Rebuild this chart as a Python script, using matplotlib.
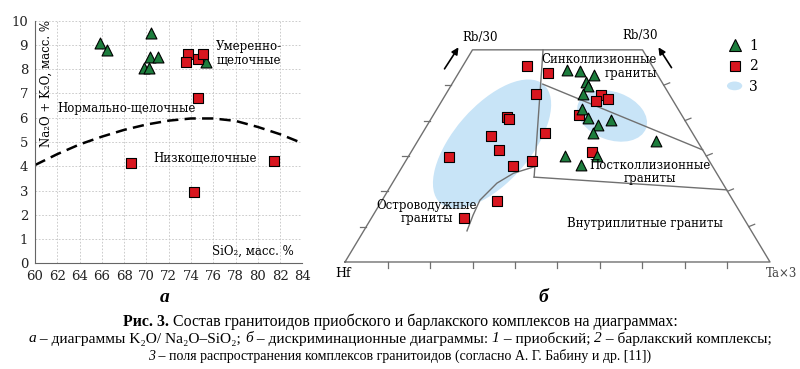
import matplotlib
matplotlib.use("Agg")
import matplotlib.pyplot as plt
from matplotlib.patches import Ellipse
from matplotlib.lines import Line2D
from matplotlib.legend_handler import HandlerPatch
import numpy as np

serif = ['DejaVu Serif']
cap_fonts = ['Liberation Serif', 'DejaVu Serif']
plt.rcParams['font.family'] = serif

GREEN = '#1d7d3d'
RED = '#d8161f'
BLUE = '#c8e4f7'
GRAY = '#707070'
LABEL_FS = 8.5

# --- a: Na2O+K2O vs SiO2 ---
sio2_tri = [65.8, 66.5, 70.4, 70.3, 71.0, 69.8, 70.2, 75.35]
alk_tri = [9.1, 8.8, 9.5, 8.5, 8.5, 8.05, 8.05, 8.3]
sio2_sq = [73.75, 73.55, 74.6, 75.1, 74.65, 68.6, 74.3, 81.45]
alk_sq = [8.62, 8.28, 8.43, 8.64, 6.8, 4.15, 2.92, 4.2]
curve_sio2 = [60, 62, 64, 66, 68, 70, 72, 74, 76, 78, 80, 82, 84]
curve_alk = [4.05, 4.5, 4.9, 5.22, 5.5, 5.72, 5.88, 5.97, 5.97, 5.87, 5.62, 5.32, 4.95]
x_ticks = list(range(60, 85, 2))
y_ticks = list(range(0, 11))

# --- b: Hf - Rb/30 - Ta*3 (percent) ---
rb_sq = [55.4, 53.5, 47.5, 41.0, 40.4, 35.6, 36.5, 31.7, 29.7, 28.6, 27.2, 17.3, 12.4,
         47.2, 46.1, 45.5, 41.6, 31.1]
ta_sq = [15.1, 21.0, 21.2, 17.6, 18.4, 16.6, 28.8, 20.4, 9.6, 29.7, 25.9, 27.1, 21.8,
         36.6, 38.8, 36.3, 34.3, 42.6]
rb_tri = [54.3, 54.0, 52.9, 50.9, 49.8, 47.5, 43.3, 40.7, 38.7, 40.2, 36.5, 34.2, 30.0, 30.0, 27.4]
ta_tri = [25.1, 28.3, 32.2, 31.3, 32.3, 32.3, 34.1, 36.8, 40.1, 42.5, 40.1, 56.1, 36.8, 44.3, 41.8]

rb_top = 60
line_a = ([60, 24.0], [16.6, 32.5])
line_b = ([50.3, 31.7], [21.4, 68.3])
line_c = ([24.0, 20.4], [32.5, 79.6])
arc_rb = [8.8, 13.3, 17.5, 22.3, 25.1, 26.9]
arc_ta = [24.3, 23.5, 23.0, 24.6, 27.1, 31.0]
# fields: centre (rb, ta), width, height, angle
field_big = (33.4, 17.9, 0.37, 0.18, 49)
field_small = (41.3, 42.2, 0.17, 0.113, -20)

H = 0.832


def tern(rb, ta):
    rb = np.asarray(rb, float) / 100
    ta = np.asarray(ta, float) / 100
    return ta + rb / 2, rb * H


fig = plt.figure(figsize=(8, 3.69), dpi=100)

# ---------- a ----------
ax = fig.add_axes([35 / 800, 1 - 263.3 / 369, 267.4 / 800, 242.6 / 369])
ax.set_xlim(60, 84)
ax.set_ylim(0, 10)
ax.set_xticks(x_ticks)
ax.set_yticks(y_ticks)
ax.grid(True, color='#c4c4c4', linestyle=(0, (2, 2)), linewidth=0.6)
ax.set_axisbelow(True)
for s in ['top', 'right']:
    ax.spines[s].set_visible(False)
for s in ['left', 'bottom']:
    ax.spines[s].set_color('#666666')
    ax.spines[s].set_linewidth(0.8)
ax.tick_params(length=0, labelsize=9.5, pad=5, colors='#222222')
ax.plot(curve_sio2, curve_alk, color='black', lw=1.8, dashes=(4.5, 2.5))
ax.scatter(sio2_tri, alk_tri, marker='^', s=62, color=GREEN, edgecolor='black', linewidth=0.8, zorder=3)
ax.scatter(sio2_sq, alk_sq, marker='s', s=55, color=RED, edgecolor='black', linewidth=0.8, zorder=3)
ax.text(79.2, 8.64, 'Умеренно-\nщелочные', ha='center', va='center', fontsize=LABEL_FS, linespacing=1.15)
ax.text(62.0, 6.39, 'Нормально-щелочные', ha='left', va='center', fontsize=LABEL_FS)
ax.text(70.6, 4.33, 'Низкощелочные', ha='left', va='center', fontsize=LABEL_FS)
ax.text(83.2, 0.48, 'SiO₂, масс. %', ha='right', va='center', fontsize=LABEL_FS)
ax.text(61.05, 7.4, 'Na₂O + K₂O, масс. %', ha='center', va='center', rotation=90, fontsize=LABEL_FS)

# ---------- b ----------
bx = fig.add_axes([330 / 800, 1 - 290 / 369, 470 / 800, 270 / 369])
bx.set_xlim(-0.0353, 1.0706)
bx.set_ylim(-0.0659, 0.5694)
bx.axis('off')

for rb0, ta0, w, h, ang in [field_big, field_small]:
    cx, cy = tern(rb0, ta0)
    bx.add_patch(Ellipse((cx, cy), w, h, angle=ang, facecolor=BLUE, edgecolor='none', zorder=1))

ox, oy = tern([0, 0, rb_top, rb_top, 0], [0, 100, 100 - rb_top, 0, 0])
bx.plot(ox, oy, color=GRAY, lw=1, zorder=2)
for ln in [line_a, line_b, line_c]:
    lx, ly = tern(*ln)
    bx.plot(lx, ly, color=GRAY, lw=1, zorder=2)
lx, ly = tern(arc_rb, arc_ta)
bx.plot(lx, ly, color=GRAY, lw=1, zorder=2)

tl = 0.015
for k in range(10, 100, 10):
    tx, ty = tern(0, k)
    bx.plot([tx, tx], [ty, ty - tl], color=GRAY, lw=0.9)
for k in range(10, 60, 10):
    tx, ty = tern(k, 0)
    bx.plot([tx, tx - tl], [ty, ty], color=GRAY, lw=0.9)
    tx, ty = tern(k, 100 - k)
    bx.plot([tx, tx + tl * 0.93], [ty, ty + tl * 0.37], color=GRAY, lw=0.9)

x, y = tern(rb_sq, ta_sq)
bx.scatter(x, y, marker='s', s=60, color=RED, edgecolor='black', linewidth=0.8, zorder=3)
x, y = tern(rb_tri, ta_tri)
bx.scatter(x, y, marker='^', s=60, color=GREEN, edgecolor='black', linewidth=0.8, zorder=3)

bx.annotate('', xy=(0.2706, 0.5106), xytext=(0.2306, 0.449),
            arrowprops=dict(arrowstyle='-|>', color='black', lw=1.2, mutation_scale=10))
bx.annotate('', xy=(0.734, 0.5106), xytext=(0.7718, 0.4518),
            arrowprops=dict(arrowstyle='-|>', color='black', lw=1.2, mutation_scale=10))
bx.text(0.3176, 0.529, 'Rb/30', ha='center', va='center', fontsize=8.5)
bx.text(0.694, 0.534, 'Rb/30', ha='center', va='center', fontsize=8.5)
bx.text(-0.0047, -0.0259, 'Hf', ha='center', va='center', fontsize=9)
bx.text(1.028, -0.0259, 'Ta×3', ha='center', va='center', fontsize=8.5, color='#444444')

bx.text(0.7334, 0.4605, 'Синколлизионные\nграниты', ha='right', va='center', fontsize=LABEL_FS,
        multialignment='right', linespacing=1.1)
bx.text(0.7176, 0.2106, 'Постколлизионные\nграниты', ha='center', va='center', fontsize=LABEL_FS,
        linespacing=1.0)
bx.text(0.7059, 0.091, 'Внутриплитные граниты', ha='center', va='center', fontsize=LABEL_FS)
bx.text(0.1922, 0.1172, 'Островодужные\nграниты', ha='center', va='center', fontsize=LABEL_FS,
        linespacing=1.05)


class HandlerEllipse(HandlerPatch):
    def create_artists(self, legend, orig_handle, xdescent, ydescent, width, height, fontsize, trans):
        e = Ellipse((width / 2 - xdescent, height / 2 - ydescent), width * 1.0, height * 0.9)
        self.update_prop(e, orig_handle, legend)
        e.set_transform(trans)
        return [e]


handles = [Line2D([], [], marker='^', ls='none', ms=8, mfc=GREEN, mec='black', mew=0.8),
           Line2D([], [], marker='s', ls='none', ms=7.5, mfc=RED, mec='black', mew=0.8),
           Ellipse((0, 0), 1, 1, facecolor=BLUE, edgecolor='none')]
bx.legend(handles, ['1', '2', '3'], loc='upper left', bbox_to_anchor=(0.818, 0.975), frameon=False,
          fontsize=10, handlelength=1.1, handletextpad=0.5, labelspacing=0.45,
          handler_map={Ellipse: HandlerEllipse()})

# ---------- caption ----------
fig.text(165 / 800, 1 - 298 / 369, 'а', fontsize=14, style='italic', weight='bold', family=cap_fonts,
         ha='center', va='center')
fig.text(543 / 800, 1 - 298 / 369, 'б', fontsize=14, style='italic', weight='bold', family=cap_fonts,
         ha='center', va='center')

renderer = fig.canvas.get_renderer()


def text_width(s, size, style, weight):
    t = fig.text(0, 0, '|' + s + '|', fontsize=size, style=style, weight=weight, family=cap_fonts)
    t2 = fig.text(0, 0, '||', fontsize=size, style=style, weight=weight, family=cap_fonts)
    w = t.get_window_extent(renderer).width - t2.get_window_extent(renderer).width
    t.remove()
    t2.remove()
    return w


def caption_line(ypx, parts, size):
    widths = [text_width(s, size, st, wt) for s, st, wt in parts]
    x = (800 - sum(widths)) / 2
    for (s, st, wt), w in zip(parts, widths):
        fig.text(x / 800, 1 - ypx / 369, s, fontsize=size, style=st, weight=wt, family=cap_fonts,
                 ha='left', va='center')
        x += w


N, I, B = 'normal', 'italic', 'bold'
caption_line(322, [('Рис. 3.', N, B),
                   (' Состав гранитоидов приобского и барлакского комплексов на диаграммах:', N, N)], 11.4)
caption_line(339, [('а', I, N), (' – диаграммы K₂O/ Na₂O–SiO₂; ', N, N), ('б', I, N),
                   (' – дискриминационные диаграммы: ', N, N), ('1', I, N), (' – приобский; ', N, N),
                   ('2', I, N), (' – барлакский комплексы;', N, N)], 11.1)
caption_line(356, [('3', I, N),
                   (' – поля распространения комплексов гранитоидов (согласно А. Г. Бабину и др. [11])', N, N)],
             10.0)

fig.savefig('out.png', dpi=100)
